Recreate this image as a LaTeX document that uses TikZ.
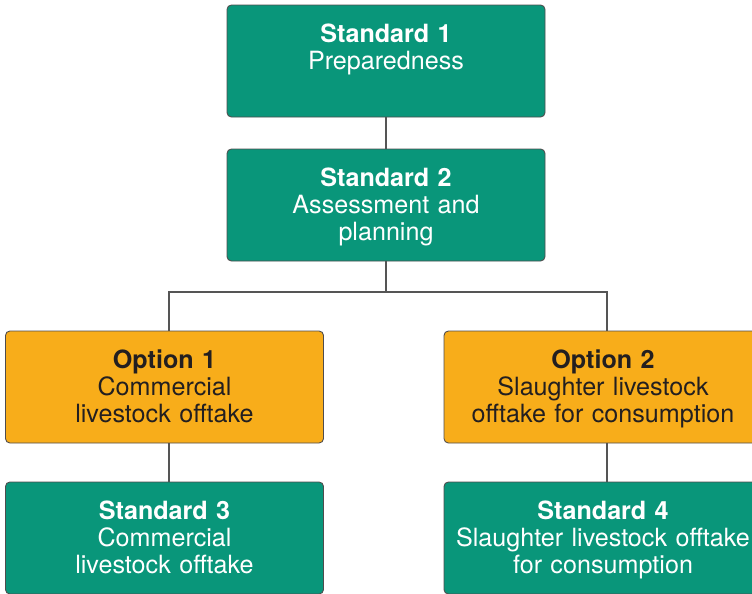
\documentclass[tikz,border=0pt]{standalone}
\usepackage{fontspec}
\setmainfont{TeX Gyre Heros}
\usetikzlibrary{positioning}
\definecolor{stdgreen}{RGB}{9,150,122}
\definecolor{optorange}{RGB}{248,173,26}
\definecolor{darktext}{RGB}{35,31,32}
\definecolor{linegray}{RGB}{85,85,85}
\tikzset{
	box/.style={draw=darktext!80, line width=0.5pt, rounded corners=2.5pt, inner sep=0pt,
		text width=6.36cm, align=center, text height=0.75cm, text depth=1.49cm,
		font=\fontsize{14.3}{15.4}\selectfont},
	stdbox/.style={box, fill=stdgreen, text=white},
	optbox/.style={box, fill=optorange, text=darktext},
	link/.style={draw=linegray, line width=0.6pt}
}
\begin{document}
\begin{tikzpicture}
			%%%%% START %%%%%
			
			\useasboundingbox (0, 0) rectangle (15.04, -11.86);
			\clip (0, 0) rectangle (15.04, -11.86);
			
			\node[stdbox] (s1) at (7.72, -1.22) {\textbf{Standard 1}\\Preparedness};
			\node[stdbox] (s2) at (7.72, -4.10) {\textbf{Standard 2}\\Assessment and\\planning};
			
			\node[optbox] (o1) at (3.29, -7.74) {\textbf{Option 1}\\Commercial\\livestock offtake};
			\node[optbox] (o2) at (12.06, -7.74) {\textbf{Option 2}\\Slaughter livestock\\offtake for consumption};
			
			\node[stdbox] (s3) at (3.29, -10.76) {\textbf{Standard 3}\\Commercial\\livestock offtake};
			\node[stdbox] (s4) at (12.06, -10.76) {\textbf{Standard 4}\\Slaughter livestock offtake\\for consumption};
			
			\coordinate (split) at (7.72, -5.84);
			
			\draw[link] (s1.south) -- (s2.north);
			\draw[link] (s2.south) -- (split);
			\draw[link] (split) -| ([xshift=0.09cm]o1.north);
			\draw[link] (split) -| ([xshift=0.08cm]o2.north);
			\draw[link] ([xshift=0.09cm]o1.south) -- ([xshift=0.09cm]s3.north);
			\draw[link] ([xshift=0.08cm]o2.south) -- ([xshift=0.08cm]s4.north);
			
			%%%%% END %%%%%
\end{tikzpicture}
\end{document}
